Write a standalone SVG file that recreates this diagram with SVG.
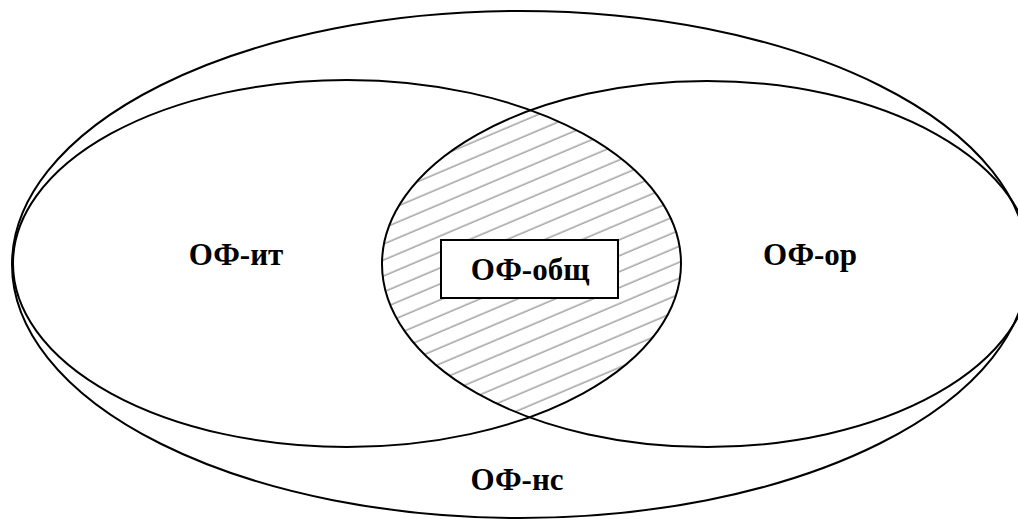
<svg xmlns="http://www.w3.org/2000/svg" width="1018" height="519" viewBox="0 0 1018 519">
  <style>
    .ell { fill: none; stroke: #000; stroke-width: 2; }
    .lbl { font-family: "Liberation Serif", "Times New Roman", serif; font-weight: bold; font-size: 31px; fill: #000; text-anchor: middle; }
  </style>
  <defs>
    <pattern id="hatch" patternUnits="userSpaceOnUse" width="20" height="14.7" patternTransform="rotate(-23)">
      <line x1="0" y1="7" x2="20" y2="7" stroke="#8a8a8a" stroke-width="1.2"/>
    </pattern>
    <clipPath id="leftClip">
      <ellipse cx="347" cy="263.5" rx="334" ry="183.5"/>
    </clipPath>
  </defs>
  <rect width="1018" height="519" fill="#fff"/>
  <g id="hatching">
    <ellipse cx="707" cy="264" rx="325" ry="183" fill="url(#hatch)" stroke="none" clip-path="url(#leftClip)"/>
  </g>
  <g id="outer-ns">
    <ellipse class="ell" cx="520" cy="264.5" rx="508" ry="253.5"/>
    <text class="lbl" x="517" y="490">ОФ-нс</text>
  </g>
  <g id="left-it">
    <ellipse class="ell" cx="347" cy="263.5" rx="334" ry="183.5"/>
    <text class="lbl" x="236" y="265">ОФ-ит</text>
  </g>
  <g id="right-or">
    <ellipse class="ell" cx="707" cy="264" rx="325" ry="183"/>
    <text class="lbl" x="810" y="265">ОФ-ор</text>
  </g>
  <g id="common">
    <rect x="441" y="240" width="177" height="58" fill="#fff" stroke="#000" stroke-width="2"/>
    <text class="lbl" x="530" y="280">ОФ-общ</text>
  </g>
  <g id="connectors"/>
</svg>
